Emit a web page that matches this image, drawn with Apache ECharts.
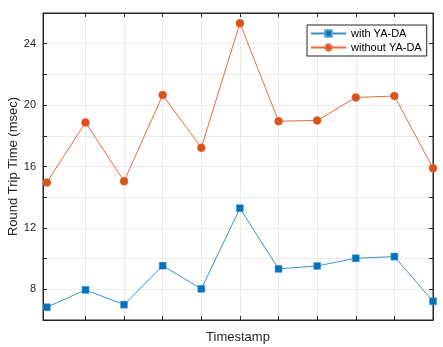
<!DOCTYPE html>
<html><head><meta charset="utf-8">
<script src="https://cdn.jsdelivr.net/npm/echarts@6/dist/echarts.min.js"></script>
<style>html,body{margin:0;padding:0;background:#fff}#c{width:443px;height:347px}</style>
</head><body><div id="c"></div>
<script>
const timestamps = [1,2,3,4,5,6,7,8,9,10,11];
const withYADA = [6.83,7.96,7.0,9.54,8.03,13.28,9.33,9.52,10.02,10.13,7.22];
const withoutYADA = [14.96,18.87,15.04,20.65,17.22,25.34,18.95,19.0,20.5,20.59,15.89];
const xTicks = [2,3,4,5,6,7,8,9,10];
const yLabels = [8,12,16,20,24];

const font = 'Liberation Sans, Arial, Helvetica, sans-serif';
const chart = echarts.init(document.getElementById('c'), null, {renderer:'canvas'});
const gridLine = {show:true, lineStyle:{color:'#ebebeb', width:1}};
chart.setOption({
  animation:false,
  textStyle:{fontFamily:font},
  grid:{left:43, right:10, top:13, bottom:27, containLabel:false, outerBoundsMode:'none',
        show:true, borderColor:'#262626', borderWidth:1, backgroundColor:'#fff'},
  legend:{
    orient:'vertical', left:307, top:25, padding:[3,5,3,3], itemGap:3,
    itemWidth:35, itemHeight:8,
    backgroundColor:'#fff', borderColor:'#262626', borderWidth:1, borderRadius:0,
    textStyle:{fontFamily:font, fontSize:11, color:'#000'},
    data:['with YA-DA','without YA-DA']
  },
  xAxis:[{
    type:'value', min:0.9, max:11,
    name:'Timestamp', nameLocation:'middle', nameGap:11, nameMoveOverlap:false,
    nameTextStyle:{fontFamily:font, fontSize:13, color:'#262626'},
    axisLine:{show:true, lineStyle:{color:'#262626'}},
    axisTick:{show:true, inside:true, length:4, customValues:xTicks, lineStyle:{color:'#262626'}},
    axisLabel:{show:false, customValues:xTicks},
    splitLine:gridLine
  },{
    type:'value', min:0.9, max:11, position:'top',
    axisLine:{show:true, lineStyle:{color:'#262626'}},
    axisTick:{show:true, inside:true, length:4, customValues:xTicks, lineStyle:{color:'#262626'}},
    axisLabel:{show:false, customValues:xTicks},
    splitLine:{show:false}
  }],
  yAxis:[{
    type:'value', min:6, max:26, interval:2,
    name:'Round Trip Time (msec)', nameLocation:'middle', nameGap:23, nameMoveOverlap:false,
    nameTextStyle:{fontFamily:font, fontSize:13, color:'#262626'},
    axisLine:{show:true, lineStyle:{color:'#262626'}},
    axisTick:{show:true, inside:true, length:4, lineStyle:{color:'#262626'}},
    axisLabel:{fontFamily:font, fontSize:11, color:'#262626', margin:7,
      formatter:v=> yLabels.includes(v) ? String(v) : ''},
    splitLine:gridLine
  },{
    type:'value', min:6, max:26, interval:2, position:'right',
    axisLine:{show:true, lineStyle:{color:'#262626'}},
    axisTick:{show:true, inside:true, length:4, lineStyle:{color:'#262626'}},
    axisLabel:{show:false}, splitLine:{show:false}
  }],
  series:[{
    name:'with YA-DA', type:'line',
    data: timestamps.map((t,i)=>[t, withYADA[i]]),
    symbol:'rect', symbolSize:7,
    lineStyle:{color:'#3a92cf', width:1},
    itemStyle:{color:'#0072BD', borderColor:'#4d9bd3', borderWidth:0.5},
    clip:false
  },{
    name:'without YA-DA', type:'line',
    data: timestamps.map((t,i)=>[t, withoutYADA[i]]),
    symbol:'circle', symbolSize:8,
    lineStyle:{color:'#e46e3d', width:1},
    itemStyle:{color:'#D95319', borderColor:'#e4764a', borderWidth:0.5},
    clip:false
  }]
});
</script></body></html>
